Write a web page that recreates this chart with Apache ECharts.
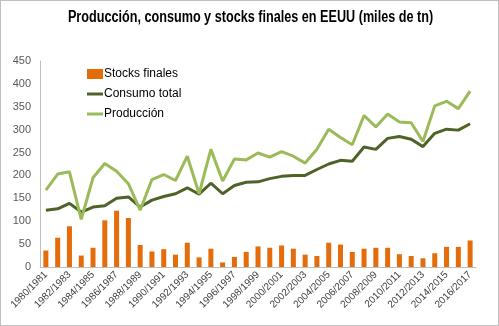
<!DOCTYPE html>
<html><head><meta charset="utf-8">
<script src="https://cdn.jsdelivr.net/npm/echarts@6/dist/echarts.min.js"></script>
<style>html,body{margin:0;padding:0;background:#fff}#c{width:499px;height:326px;box-sizing:border-box;border:1px solid #bfbfbf}</style>
</head><body><div id="c"></div>
<script>
const categories = ['1980/1981','1981/1982','1982/1983','1983/1984','1984/1985','1985/1986','1986/1987','1987/1988','1988/1989','1989/1990','1990/1991','1991/1992','1992/1993','1993/1994','1994/1995','1995/1996','1996/1997','1997/1998','1998/1999','1999/2000','2000/2001','2001/2002','2002/2003','2003/2004','2004/2005','2005/2006','2006/2007','2007/2008','2008/2009','2009/2010','2010/2011','2011/2012','2012/2013','2013/2014','2014/2015','2015/2016','2016/2017'];
const stocks = [36,64,89,25,42,102,123,107,48,34,39,27,53,21,40,10,22,33,45,42,47,40,27,24,53,49,33,40,42,42,28,24,19,30,44,44,58];
const consumo = [124,127,139,120,131,134,150,153,131,146,154,160,173,159,183,160,178,185,186,193,198,200,200,213,225,233,231,262,257,281,285,279,263,292,301,299,313];
const produccion = [168,203,208,104,195,226,209,182,124,191,202,189,242,160,257,188,236,234,249,240,252,242,227,257,301,283,267,331,306,334,317,315,274,352,362,346,384];
const yTicks = {min:0, max:450, interval:50};
const titleText = 'Producción, consumo y stocks finales en EEUU (miles de tn)';
const lineIcon = 'path://M0,0 L16,0 L16,3 L0,3 Z';

const chart = echarts.init(document.getElementById('c'));
chart.setOption({
  animation:false,
  graphic:[{type:'text',x:249.5,y:17,scaleX:0.79,scaleY:1,
    style:{text:titleText,font:'bold 16px "Liberation Sans", Arial, sans-serif',fill:'#000',align:'center',verticalAlign:'middle'}}],
  legend:{orient:'vertical',left:81,top:62,itemGap:8,itemWidth:16,itemHeight:10,
    textStyle:{fontFamily:'Liberation Sans, Arial, sans-serif',fontSize:12,color:'#000',padding:[0,0,0,-4]},
    data:[{name:'Stocks finales',icon:'rect'},{name:'Consumo total',icon:lineIcon},{name:'Producción',icon:lineIcon}]},
  grid:{left:39,right:22,top:60,bottom:58,containLabel:false},
  xAxis:{type:'category',data:categories,boundaryGap:true,
    axisLine:{lineStyle:{color:'#bfbfbf'}},axisTick:{show:false},
    axisLabel:{interval:1,rotate:45,fontSize:10,color:'#404040',fontFamily:'Liberation Sans, Arial, sans-serif',margin:6}},
  yAxis:{type:'value',min:yTicks.min,max:yTicks.max,interval:yTicks.interval,
    axisLine:{show:true,lineStyle:{color:'#bfbfbf'}},axisTick:{show:false},splitLine:{show:false},
    axisLabel:{fontSize:11,color:'#595959',fontFamily:'Liberation Sans, Arial, sans-serif',margin:9}},
  series:[
    {name:'Stocks finales',type:'bar',data:stocks,barWidth:5,itemStyle:{color:'#E46C0A'}},
    {name:'Consumo total',type:'line',data:consumo,symbol:'none',lineStyle:{color:'#4F6228',width:3},itemStyle:{color:'#4F6228'}},
    {name:'Producción',type:'line',data:produccion,symbol:'none',lineStyle:{color:'#9BBB59',width:3},itemStyle:{color:'#9BBB59'}}
  ]
});
</script></body></html>
